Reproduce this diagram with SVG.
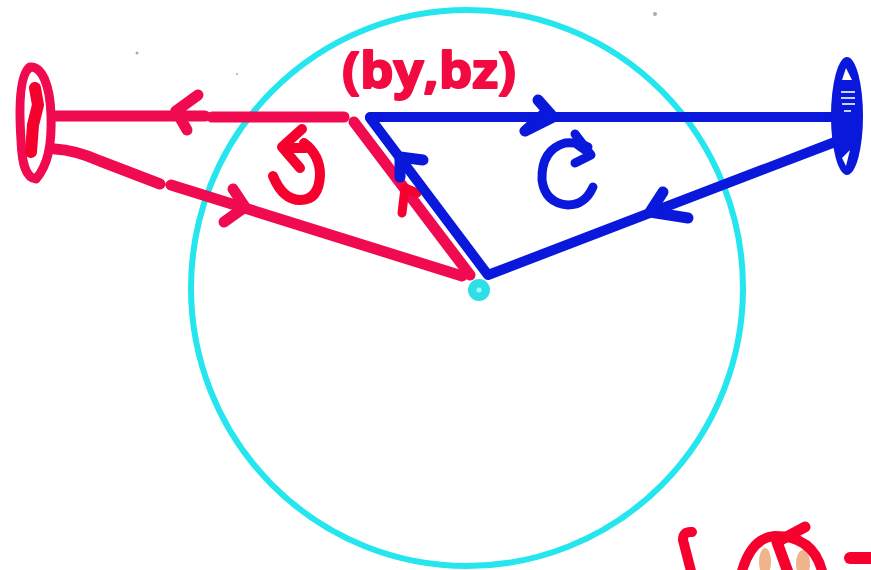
<svg xmlns="http://www.w3.org/2000/svg" width="871" height="570" viewBox="0 0 871 570">
<style>
.s{fill:none;stroke-linecap:round;stroke-linejoin:round}
.pink{stroke:#f00a50;stroke-width:11}
.red{stroke:#f6002e;stroke-width:9}
.blue{stroke:#0a18dc;stroke-width:10}
.head{stroke:#0a18dc;stroke-width:11}
.cy{stroke:#25e6ee;stroke-width:6}
text{font-family:"Open Sans","Liberation Sans",sans-serif;font-weight:700;fill:#f20a40;stroke:#f20a40;stroke-width:2;stroke-linejoin:round}
</style>
<rect width="871" height="570" fill="#fff"/>
<g id="specks" fill="#aaa"><circle cx="137" cy="53" r="1.5"/><circle cx="655" cy="14" r="2"/><circle cx="237" cy="74" r="1"/></g>
<g id="circle"><ellipse class="s cy" cx="467" cy="288" rx="276" ry="278"/></g>
<g id="connectors">
<path class="s pink" d="M54 116H205M212 117H344"/>
<path class="s pink" d="M198 95L176 111L187 130"/>
<path class="s pink" d="M55 149Q75 150 100 161L160 184M171 185L462 276"/>
<path class="s pink" d="M233 189L245 207L224 222"/>
<path class="s pink" d="M354 122L470 275"/>
<path class="s red" d="M417 193L405 188L402 213"/>
<path class="s blue" d="M370 117H835"/>
<path class="s blue" d="M370 118L488 275L835 142"/>
<path class="s head" d="M538 100L553 117L525 131L546 112"/>
<path class="s head" d="M423 160L400 157L400 177"/>
<path class="s head" d="M663 192L650 212L688 218"/>
</g>
<g id="left-node">
<path class="s pink" d="M30 67C19 75 19 110 21 140C22 165 26 178 36 179C48 165 52 145 51 115C50 85 42 66 30 67Z" style="stroke-width:9"/>
<path class="s red" d="M35 88L38 105L33 125L31 152" style="stroke-width:12"/>
</g>
<g id="right-node">
<ellipse cx="847" cy="116" rx="16" ry="59" fill="#0a18dc"/>
<path d="M846 68L842 80H852ZM842 158L846 166L850 150Z" fill="#fff"/>
<path d="M841 92H855M841 98H855M842 104H855M844 111H851" stroke="#c8d0ff" stroke-width="2"/>
</g>
<g id="target"><circle cx="479" cy="290" r="11" fill="#2fdfe8"/><circle cx="479" cy="290" r="2.5" fill="#9ff"/></g>
<g id="rotation-red">
<path class="s red" d="M273 176Q283 200 300 200Q319 200 320 175Q320 155 304 143" style="stroke-width:10"/>
<path class="s red" d="M302 129L282 147L300 168M284 148H306" style="stroke-width:10"/>
</g>
<g id="rotation-blue">
<path class="s blue" style="stroke-width:9" d="M593 187Q585 205 568 205Q545 203 542 180Q541 150 565 143Q578 142 588 147"/>
<path class="s blue" style="stroke-width:9" d="M575 134L591 155L575 163M578 145L588 152"/>
</g>
<g id="label"><text x="342" y="88" font-size="50" textLength="174" lengthAdjust="spacingAndGlyphs">(by,bz)</text></g>
<g id="bottom-right">
<ellipse cx="765" cy="562" rx="6" ry="14" fill="#f0b48c"/><ellipse cx="803" cy="564" rx="7" ry="14" fill="#f0b48c"/>
<path class="s red" d="M692 532Q683 531 683 540L692 575" style="stroke-width:10"/>
<path class="s red" d="M741 575Q750 538 775 536Q815 536 823 575" style="stroke-width:10"/>
<path class="s red" d="M805 527L777 542L789 575" style="stroke-width:11"/>
<path class="s red" d="M850 558H875" style="stroke-width:12"/>
</g>
</svg>
